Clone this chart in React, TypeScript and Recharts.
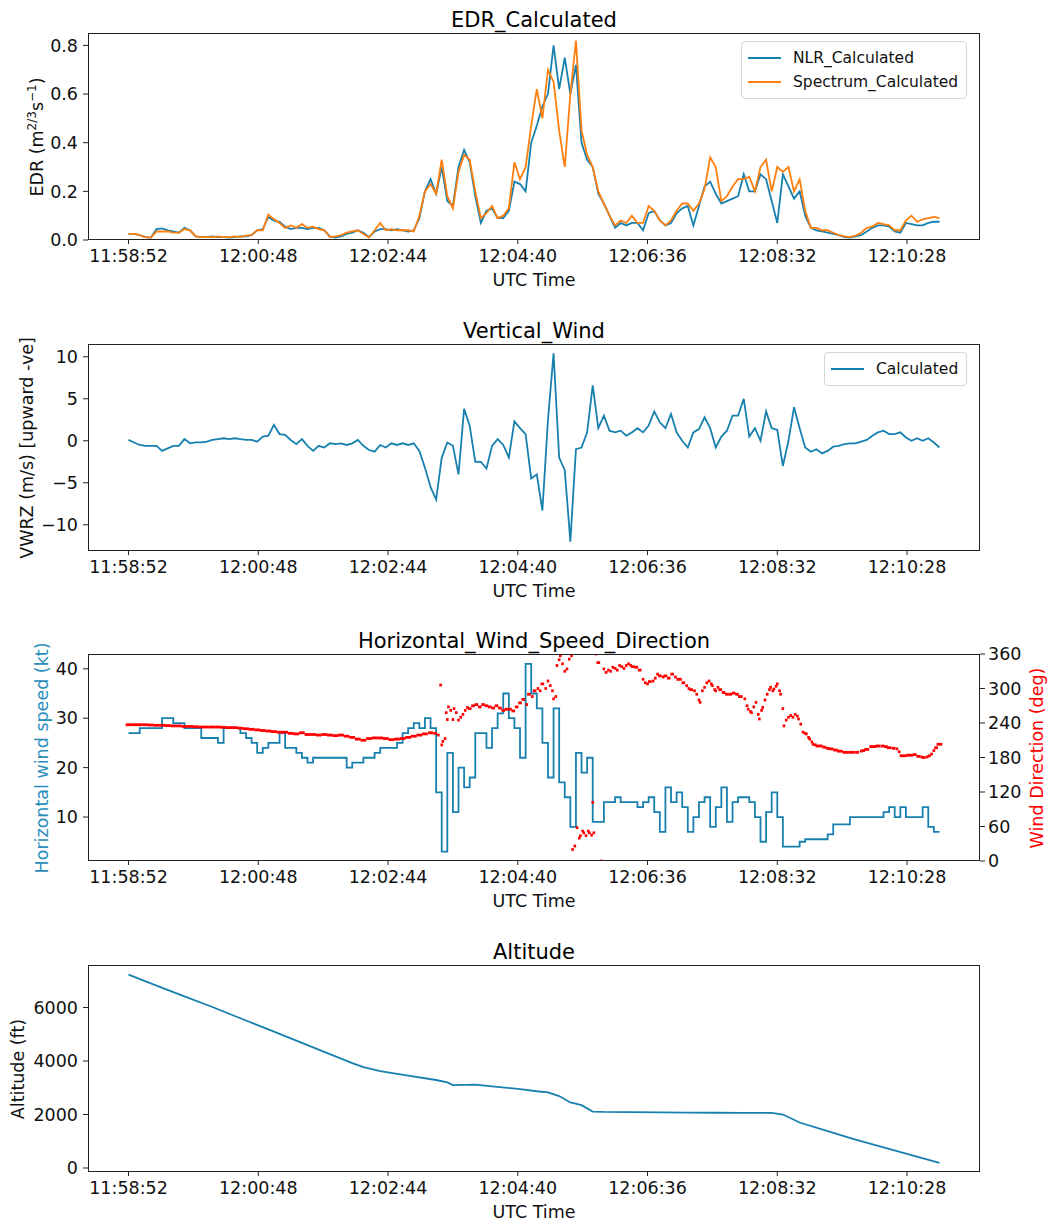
import { ComposedChart, LineChart, Line, Scatter, XAxis, YAxis } from 'recharts';

// seconds after 11:58:52, samples every 5 s for the flight series
const T0 = 11 * 3600 + 58 * 60 + 52;
const STEP = 5;
const timeTicks = [0, 116, 232, 348, 464, 580, 696];
const xDomain: [number, number] = [-36.25, 761.25];

const nlrCalculated = [
  0.025, 0.025, 0.02, 0.012, 0.01, 0.045, 0.048, 0.04, 0.035, 0.03,
  0.05, 0.04, 0.015, 0.012, 0.012, 0.015, 0.012, 0.012, 0.01, 0.012,
  0.015, 0.015, 0.02, 0.04, 0.045, 0.095, 0.08, 0.075, 0.055, 0.045,
  0.05, 0.05, 0.045, 0.05, 0.05, 0.04, 0.015, 0.01, 0.015, 0.025,
  0.03, 0.04, 0.03, 0.012, 0.035, 0.045, 0.045, 0.04, 0.045, 0.04,
  0.035, 0.04, 0.09, 0.2, 0.25, 0.19, 0.3, 0.16, 0.14, 0.3,
  0.37, 0.32, 0.18, 0.07, 0.12, 0.13, 0.09, 0.09, 0.12, 0.24,
  0.23, 0.2, 0.4, 0.47, 0.55, 0.6, 0.8, 0.62, 0.75, 0.6,
  0.72, 0.4, 0.33, 0.3, 0.19, 0.15, 0.1, 0.05, 0.07, 0.06,
  0.07, 0.07, 0.04, 0.11, 0.12, 0.08, 0.06, 0.07, 0.11, 0.13,
  0.14, 0.06, 0.14, 0.22, 0.24, 0.19, 0.15, 0.16, 0.17, 0.18,
  0.27, 0.2, 0.2, 0.27, 0.25, 0.16, 0.07, 0.27, 0.22, 0.17,
  0.2, 0.1, 0.05, 0.04, 0.035, 0.03, 0.025, 0.02, 0.012, 0.01,
  0.015, 0.02, 0.035, 0.05, 0.06, 0.06, 0.055, 0.035, 0.03, 0.07,
  0.065, 0.06, 0.06, 0.07, 0.075, 0.075,
];

const spectrumCalculated = [
  0.025, 0.025, 0.02, 0.012, 0.01, 0.035, 0.035, 0.035, 0.03, 0.03,
  0.045, 0.04, 0.015, 0.012, 0.012, 0.012, 0.015, 0.012, 0.012, 0.015,
  0.012, 0.018, 0.02, 0.04, 0.04, 0.105, 0.085, 0.07, 0.05, 0.06,
  0.05, 0.065, 0.05, 0.055, 0.045, 0.04, 0.012, 0.015, 0.02, 0.03,
  0.035, 0.04, 0.025, 0.01, 0.04, 0.07, 0.04, 0.045, 0.04, 0.04,
  0.04, 0.035, 0.1, 0.2, 0.23, 0.19, 0.33, 0.18, 0.13, 0.28,
  0.35, 0.33, 0.2, 0.09, 0.11, 0.14, 0.09, 0.1, 0.13, 0.32,
  0.25, 0.3, 0.47, 0.62, 0.5, 0.7, 0.65, 0.45, 0.3, 0.6,
  0.82, 0.45, 0.35, 0.3, 0.2, 0.15, 0.1, 0.06, 0.08, 0.07,
  0.1, 0.07, 0.07, 0.14, 0.12, 0.08, 0.06, 0.08, 0.12, 0.15,
  0.15, 0.12, 0.15, 0.21, 0.34, 0.3, 0.16, 0.18, 0.22, 0.25,
  0.25, 0.26, 0.2, 0.3, 0.33, 0.2, 0.3, 0.28, 0.3, 0.2,
  0.25, 0.12, 0.05, 0.05, 0.04, 0.04, 0.03, 0.02, 0.015, 0.012,
  0.018, 0.03, 0.05, 0.055, 0.07, 0.065, 0.06, 0.04, 0.04, 0.08,
  0.1, 0.075, 0.085, 0.09, 0.095, 0.09,
];

const vwrzCalculated = [
  0.1, -0.2, -0.5, -0.6, -0.6, -0.6, -1.2, -0.9, -0.6, -0.6,
  0.2, -0.3, -0.2, -0.2, -0.1, 0.1, 0.2, 0.3, 0.2, 0.3,
  0.2, 0.1, 0.1, -0.1, 0.5, 0.6, 1.9, 0.8, 0.7, 0.1,
  -0.4, 0.2, -0.6, -1.2, -0.6, -0.8, -0.3, -0.4, -0.3, -0.5,
  -0.3, 0.1, -0.6, -1.1, -1.3, -0.5, -0.8, -0.3, -0.5, -0.3,
  -0.5, -0.3, -1.2, -3.2, -5.5, -7.0, -2.0, -0.2, -0.6, -4.0,
  3.8, 1.8, -2.5, -2.5, -3.3, -0.6, 0.2, -0.5, -2.0, 2.3,
  1.5, 0.8, -4.5, -4.0, -8.3, 2.5, 10.4, -2.0, -3.5, -12.0,
  -1.0, -0.8, 1.0, 6.6, 1.5, 3.0, 1.2, 1.0, 1.2, 0.6,
  1.0, 1.5, 1.0, 1.8, 3.5, 2.2, 1.5, 3.2, 1.0, 0.0,
  -0.8, 1.0, 1.4, 2.8, 1.5, -0.8, 0.5, 1.2, 3.0, 3.0,
  5.0, 0.5, 1.5, 0.0, 3.5, 1.5, 1.3, -3.0, 0.0, 4.0,
  1.5, -0.8, -1.3, -1.0, -1.5, -1.2, -0.7, -0.6, -0.4, -0.3,
  -0.3, -0.1, 0.1, 0.6, 1.0, 1.2, 0.8, 0.8, 1.0, 0.4,
  0.0, 0.3, 0.0, 0.3, -0.2, -0.8,
];

const windSpeed = [
  27, 27, 28, 28, 28, 28, 30, 30, 29, 29,
  28, 28, 28, 26, 26, 26, 25, 28, 28, 28,
  27, 26, 25, 23, 24, 25, 25, 27, 24, 24,
  23, 22, 21, 22, 22, 22, 22, 22, 22, 20,
  21, 21, 22, 22, 23, 24, 24, 24, 25, 27,
  28, 29, 28, 30, 28, 15, 3, 23, 11, 20,
  16, 18, 27, 27, 24, 28, 31, 35, 30, 28,
  22, 41, 35, 32, 25, 18, 32, 17, 14, 8,
  23, 19, 22, 9, 9, 13, 13, 14, 13, 13,
  13, 12, 13, 14, 11, 7, 16, 13, 15, 12,
  7, 10, 13, 14, 8, 12, 16, 9, 13, 14,
  14, 13, 10, 5, 11, 15, 10, 4, 4, 4,
  5, 5.5, 5.5, 5.5, 5.5, 6.5, 8.5, 8.5, 8.5, 10,
  10, 10, 10, 10, 10, 11, 12, 10, 12, 10,
  10, 10, 12, 8, 7, 7,
];

const dirTimes = [
  0, 5, 10, 15, 20, 25, 30, 35, 40, 45, 50, 55, 60, 65, 70, 75, 80, 85, 90, 95,
  100, 105, 110, 115, 120, 125, 130, 135, 140, 145, 150, 155, 160, 165, 170, 175, 180, 185, 190, 195,
  200, 205, 210, 215, 220, 225, 230, 235, 240, 245, 250, 255, 260, 265, 270, 274, 277,
  279, 280, 281, 283, 284, 285, 286, 288, 290, 291, 293, 295, 297, 299, 301, 303, 305, 308,
  311, 314, 317, 320, 323, 326, 329, 332, 335, 338, 341, 344, 347, 350, 353, 356, 358, 361,
  363, 366, 368, 370, 373, 375, 377, 379, 380, 382, 383, 385, 386, 388, 390, 392, 394, 396,
  397, 399, 401, 403, 404, 406, 407, 409, 411, 412, 414, 415, 416, 418, 420, 423, 425, 427,
  429, 431, 433, 435, 437, 439, 441, 443, 445, 447, 449, 451, 454, 457, 460, 462, 464, 466,
  469, 471, 473, 475, 478, 480, 483, 486, 489, 491, 493, 496, 499, 501, 503, 506, 508, 510,
  511, 513, 515, 517, 519, 521, 522, 524, 525, 527, 529, 532, 535, 538, 541, 544, 547, 551,
  553, 554, 556, 557, 559, 561, 563, 564, 566, 567, 569, 571, 573, 574, 576, 577, 579, 580,
  582, 583, 585, 586, 588, 590, 592, 594, 596, 598, 599, 601, 603, 605, 606, 608, 609, 611,
  612, 614, 616, 619, 622, 625, 628, 632, 636, 641, 646, 651, 655, 657, 660, 664, 667, 670,
  674, 677, 680, 684, 687, 689, 691, 694, 697, 700, 703, 706, 709, 711, 714, 716, 718, 720,
  722, 725,
];

const windDirection = [
  237, 237, 237, 237, 236.5, 236, 236, 235.5, 235, 235, 234, 234, 233.5, 233, 233, 233, 233, 232.5, 232, 232,
  231, 230, 229, 228, 227, 226, 225, 224, 224, 222, 221, 223, 220, 220, 219, 220, 219, 218, 219, 217,
  215, 212, 210, 213, 214, 214, 213, 211, 212, 213, 215, 217, 219, 221, 223, 222, 219,
  306, 202, 208, 213, 258, 246, 268, 262, 246, 265, 258, 245, 250, 255, 262, 267, 265, 270,
  272, 268, 272, 270, 268, 266, 270, 266, 262, 264, 264, 261, 268, 275, 281, 272, 290, 286,
  296, 300, 296, 308, 300, 313, 305, 296, 282, 286, 340, 350, 357, 343, 330, 334, 351, 357,
  20, 26, 58, 40, 44, 52, 49, 44, 52, 49, 45, 102, 49, 360, 345, 0, 334, 328,
  332, 330, 337, 335, 332, 340, 338, 335, 340, 343, 340, 338, 337, 332, 316, 310, 308, 312,
  313, 318, 325, 322, 320, 322, 318, 325, 320, 316, 316, 310, 305, 300, 298, 296, 290, 280,
  276, 296, 302, 310, 313, 308, 305, 298, 296, 302, 298, 293, 290, 290, 292, 290, 286, 282,
  270, 264, 260, 258, 268, 276, 255, 247, 262, 267, 280, 290, 298, 302, 296, 299, 304, 308,
  296, 290, 265, 235, 245, 250, 253, 250, 255, 252, 247, 238, 224, 222, 221, 215, 212, 207,
  203, 202, 200, 200, 198, 196, 195, 193, 191, 189, 189, 189, 191, 192, 194, 199, 199, 200,
  200, 199, 197, 196, 195, 190, 183, 183, 184, 184, 185, 182, 181, 180, 181, 183, 186, 192,
  197, 203,
];

const altTimes = [
  0, 25, 50, 75, 100, 125, 150, 175, 200, 210, 225, 250, 275, 285, 290, 300, 310, 325, 350,
  365, 375, 385, 395, 405, 415, 425, 450, 475, 500, 525, 550, 575, 585, 600, 625, 650, 675, 700, 725,
];
const altitude = [
  7230, 6820, 6420, 6020, 5600, 5180, 4760, 4340, 3920, 3770, 3620, 3450, 3290, 3200, 3100, 3110, 3120, 3050, 2950,
  2870, 2830, 2690, 2450, 2350, 2110, 2095, 2090, 2080, 2070, 2065, 2060, 2060, 2000, 1700, 1380, 1060, 770, 480, 190,
];

const edrTicks = [0, 0.2, 0.4, 0.6, 0.8];
const vwrzTicks = [-10, -5, 0, 5, 10];
const speedTicks = [10, 20, 30, 40];
const dirTicks = [0, 60, 120, 180, 240, 300, 360];
const altTicks = [0, 2000, 4000, 6000];

const BLUE = '#1780ae';
const ORANGE = '#ff7f0e';
const RED = '#ff0000';
const FONT = '"DejaVu Sans", Verdana, sans-serif';
const TICK = { fontSize: 17.5, fill: '#111' };

const edrData = nlrCalculated.map((v, i) => ({ t: i * STEP, nlr: v, spec: spectrumCalculated[i] }));
const vwrzData = vwrzCalculated.map((v, i) => ({ t: i * STEP, vwrz: v }));
const speedData = windSpeed.map((v, i) => ({ t: i * STEP, speed: v }));
const dirData = dirTimes.map((t, i) => ({ t, dir: windDirection[i] }));
const altData = altTimes.map((t, i) => ({ t, alt: altitude[i] }));

// marker width follows the sample spacing so dense runs read as a line
const PX_PER_S = 892 / (xDomain[1] - xDomain[0]);
const dirGap = new Map(dirTimes.map((t, i) => [t, (dirTimes[i + 1] ?? t + 5) - t]));

const fmtTime = (s: number) => {
  const v = T0 + s;
  const parts = [Math.floor(v / 3600), Math.floor((v % 3600) / 60), v % 60];
  return parts.map((n) => String(n).padStart(2, '0')).join(':');
};
const fmtSigned = (v: number) => (v < 0 ? '\u2212' + Math.abs(v) : String(v));

const W = 1064;
const H = 300;
const PLOT_L = 88;
const PLOT_W = 892;
const PLOT_T = 33;
const PLOT_H = 207;

function xAxis() {
  return (
    <XAxis
      dataKey="t"
      type="number"
      domain={xDomain}
      ticks={timeTicks}
      tickFormatter={fmtTime}
      interval={0}
      allowDataOverflow
      height={60}
      tickSize={4}
      tickMargin={6}
      axisLine={false}
      tickLine={{ stroke: '#222' }}
      tick={TICK}
    />
  );
}

function Frame({ title }: { title: string }) {
  return (
    <>
      <div
        style={{
          position: 'absolute', left: PLOT_L, top: PLOT_T, width: PLOT_W, height: PLOT_H,
          border: '1.2px solid #222', boxSizing: 'border-box', pointerEvents: 'none',
        }}
      />
      <div
        style={{
          position: 'absolute', left: PLOT_L, width: PLOT_W, top: 7.5, lineHeight: '24px',
          textAlign: 'center', fontSize: 21, color: '#000',
        }}
      >
        {title}
      </div>
      <div
        style={{
          position: 'absolute', left: PLOT_L, width: PLOT_W, top: 269.5, lineHeight: '20px',
          textAlign: 'center', fontSize: 17.5, color: '#111',
        }}
      >
        UTC Time
      </div>
    </>
  );
}

function YLabel({ x, color = '#111', children }: { x: number; color?: string; children: any }) {
  return (
    <div
      style={{
        position: 'absolute', left: x, top: PLOT_T + PLOT_H / 2, whiteSpace: 'nowrap',
        transform: 'translate(-50%, -50%) rotate(-90deg)', fontSize: 17.5, lineHeight: '20px', color,
      }}
    >
      {children}
    </div>
  );
}

function LegendBox({ left, top, items }: { left: number; top: number; items: { name: string; color: string }[] }) {
  return (
    <div
      style={{
        position: 'absolute', left, top, padding: '4px 8px 4px 6px', background: 'rgba(255,255,255,0.85)',
        border: '1px solid #d6d6d6', borderRadius: 4, fontSize: 15.5,
      }}
    >
      {items.map((it) => (
        <div key={it.name} style={{ display: 'flex', alignItems: 'center', height: 24 }}>
          <span style={{ width: 33, height: 2, background: it.color, marginRight: 12 }} />
          <span style={{ color: '#111' }}>{it.name}</span>
        </div>
      ))}
    </div>
  );
}

function DirMark(p: any) {
  const gap = dirGap.get(p.payload?.t) ?? 5;
  const w = Math.max(2.6, Math.min(5.8, gap * PX_PER_S + 0.3));
  return <rect x={p.cx - w / 2} y={p.cy - 1.4} width={w} height={2.8} fill={RED} />;
}

const panel = (top: number) => ({ position: 'absolute' as const, left: 0, top, width: W, height: H });

export default function App() {
  return (
    <div style={{ position: 'absolute', left: 0, top: 0, width: W, height: 1231, background: '#fff', fontFamily: FONT }}>
      {/* EDR */}
      <div style={panel(0)}>
        <LineChart width={W} height={H} data={edrData} margin={{ top: PLOT_T, right: 84, bottom: 0, left: 0 }}>
          {xAxis()}
          <YAxis
            type="number" domain={[0, 0.851]} ticks={edrTicks} tickFormatter={(v: number) => v.toFixed(1)}
            allowDataOverflow width={88} tickSize={5} tickMargin={5} axisLine={false}
            tickLine={{ stroke: '#222' }} tick={TICK}
          />
          <Line type="linear" dataKey="nlr" stroke={BLUE} strokeWidth={1.8} dot={false} activeDot={false} isAnimationActive={false} />
          <Line type="linear" dataKey="spec" stroke={ORANGE} strokeWidth={1.8} dot={false} activeDot={false} isAnimationActive={false} />
        </LineChart>
        <Frame title="EDR_Calculated" />
        <YLabel x={37}>
          EDR (m<sup style={{ fontSize: 12, lineHeight: 0 }}>2/3</sup>s<sup style={{ fontSize: 12, lineHeight: 0 }}>{'\u22121'}</sup>)
        </YLabel>
        <LegendBox
          left={741}
          top={41}
          items={[
            { name: 'NLR_Calculated', color: BLUE },
            { name: 'Spectrum_Calculated', color: ORANGE },
          ]}
        />
      </div>

      {/* Vertical wind */}
      <div style={panel(311)}>
        <LineChart width={W} height={H} data={vwrzData} margin={{ top: PLOT_T, right: 84, bottom: 0, left: 0 }}>
          {xAxis()}
          <YAxis
            type="number" domain={[-13.12, 11.52]} ticks={vwrzTicks} tickFormatter={fmtSigned}
            allowDataOverflow width={88} tickSize={5} tickMargin={5} axisLine={false}
            tickLine={{ stroke: '#222' }} tick={TICK}
          />
          <Line type="linear" dataKey="vwrz" stroke={BLUE} strokeWidth={1.8} dot={false} activeDot={false} isAnimationActive={false} />
        </LineChart>
        <Frame title="Vertical_Wind" />
        <YLabel x={26.5}>VWRZ (m/s) [upward -ve]</YLabel>
        <LegendBox left={824} top={41} items={[{ name: 'Calculated', color: BLUE }]} />
      </div>

      {/* Horizontal wind speed and direction */}
      <div style={panel(621)}>
        <ComposedChart width={W} height={H} data={speedData} margin={{ top: PLOT_T, right: 0, bottom: 0, left: 0 }}>
          {xAxis()}
          <YAxis
            yAxisId="left" type="number" domain={[1.1, 43]} ticks={speedTicks}
            allowDataOverflow width={88} tickSize={5} tickMargin={5} axisLine={false}
            tickLine={{ stroke: '#222' }} tick={TICK}
          />
          <YAxis
            yAxisId="right" orientation="right" type="number" domain={[0, 360]} ticks={dirTicks}
            allowDataOverflow width={84} tickSize={5} tickMargin={3} axisLine={false}
            tickLine={{ stroke: '#222' }} tick={TICK}
          />
          <Line yAxisId="left" type="stepAfter" dataKey="speed" stroke={BLUE} strokeWidth={1.8} dot={false} activeDot={false} isAnimationActive={false} />
          <Scatter yAxisId="right" data={dirData} dataKey="dir" isAnimationActive={false} shape={DirMark} />
        </ComposedChart>
        <Frame title="Horizontal_Wind_Speed_Direction" />
        <YLabel x={42} color="#2a8dbb">Horizontal wind speed (kt)</YLabel>
        <YLabel x={1036.5} color={RED}>Wind Direction (deg)</YLabel>
      </div>

      {/* Altitude */}
      <div style={panel(932)}>
        <LineChart width={W} height={H} data={altData} margin={{ top: PLOT_T, right: 84, bottom: 0, left: 0 }}>
          {xAxis()}
          <YAxis
            type="number" domain={[-150, 7590]} ticks={altTicks}
            allowDataOverflow width={88} tickSize={5} tickMargin={5} axisLine={false}
            tickLine={{ stroke: '#222' }} tick={TICK}
          />
          <Line type="linear" dataKey="alt" stroke={BLUE} strokeWidth={1.8} dot={false} activeDot={false} isAnimationActive={false} />
        </LineChart>
        <Frame title="Altitude" />
        <YLabel x={18.3}>Altitude (ft)</YLabel>
      </div>
    </div>
  );
}
